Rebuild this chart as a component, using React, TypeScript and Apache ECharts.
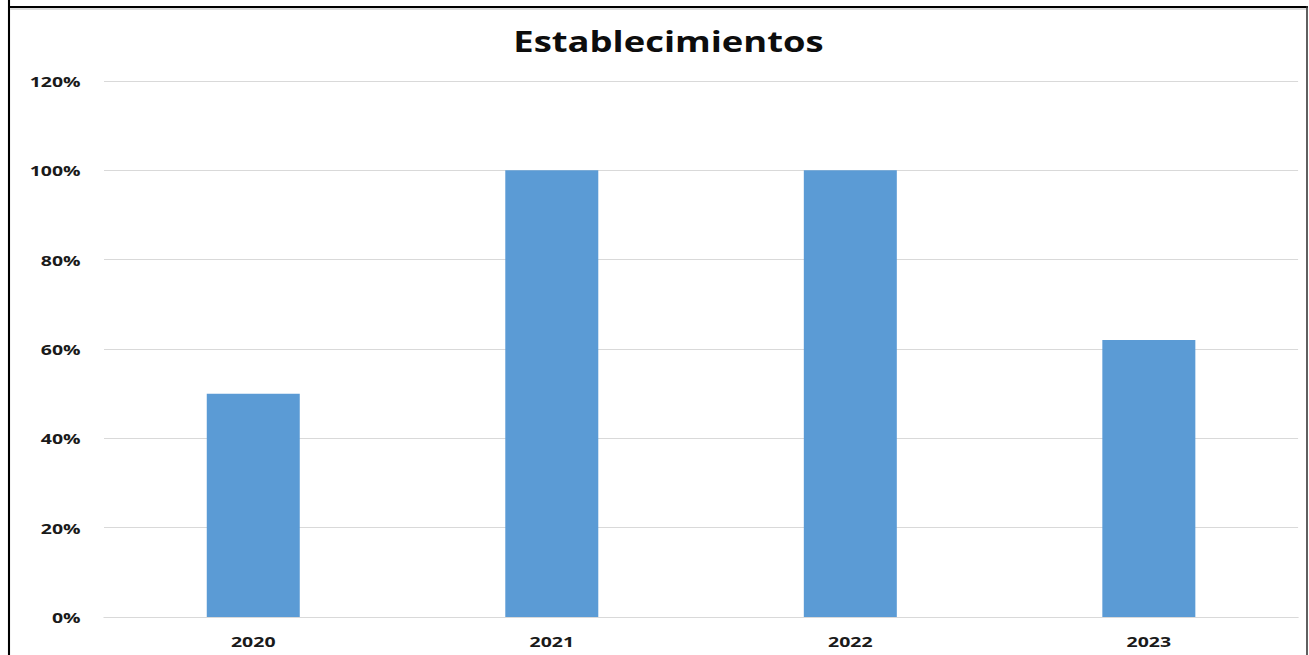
import React, { useEffect, useRef } from "react";
import * as echarts from "echarts";

const categories = ["2020", "2021", "2022", "2023"];
const values = [0.5, 1.0, 1.0, 0.62];
const titleText = "Establecimientos";

const SX = 1.3;
const W = 1309 / SX;

export default function App() {
  const ref = useRef<HTMLDivElement>(null);
  useEffect(() => {
    if (!ref.current) return;
    const chart = echarts.init(ref.current, null, { renderer: "svg" });
    chart.setOption({
      animation: false,
      backgroundColor: "#ffffff",
      title: {
        text: titleText,
        left: 662 / SX,
        textAlign: "center",
        top: 22,
        textStyle: { fontFamily: "Open Sans", fontWeight: "bold", fontSize: 28, color: "#0d0d0d" },
      },
      grid: { left: 104 / SX, right: 11 / SX, top: 81, bottom: 38 },
      xAxis: {
        type: "category",
        data: categories,
        axisLine: { lineStyle: { color: "#d9d9d9", width: 1 } },
        axisTick: { show: false },
        axisLabel: { margin: 16, fontFamily: "Open Sans", fontWeight: "bold", fontSize: 15, color: "#1a1a1a" },
      },
      yAxis: {
        type: "value",
        min: 0,
        max: 1.2,
        interval: 0.2,
        axisLine: { show: false },
        axisTick: { show: false },
        splitLine: { lineStyle: { color: "#d9d9d9", width: 1 } },
        axisLabel: {
          margin: 18,
          fontFamily: "Open Sans",
          fontWeight: "bold",
          fontSize: 15,
          color: "#1a1a1a",
          formatter: (v: number) => Math.round(v * 100) + "%",
        },
      },
      series: [
        {
          type: "bar",
          data: values,
          barWidth: 93 / SX,
          itemStyle: { color: "#5b9bd5" },
        },
      ],
      graphic: [
        { type: "line", shape: { x1: 9 / SX, y1: 0, x2: 9 / SX, y2: 655 }, style: { stroke: "#000", lineWidth: 1.6 } },
        { type: "line", shape: { x1: 8 / SX, y1: 7, x2: 1308 / SX, y2: 7 }, style: { stroke: "#000", lineWidth: 2 } },
        { type: "line", shape: { x1: 10 / SX, y1: 9, x2: 1306 / SX, y2: 9 }, style: { stroke: "#dddddd", lineWidth: 2 } },
        { type: "line", shape: { x1: 1307 / SX, y1: 6, x2: 1307 / SX, y2: 655 }, style: { stroke: "#333", lineWidth: 1.2 } },
      ],
    });
    return () => chart.dispose();
  }, []);
  return (
    <div
      ref={ref}
      style={{
        position: "absolute",
        left: 0,
        top: 0,
        width: W,
        height: 655,
        transform: `scaleX(${SX})`,
        transformOrigin: "0 0",
      }}
    />
  );
}
